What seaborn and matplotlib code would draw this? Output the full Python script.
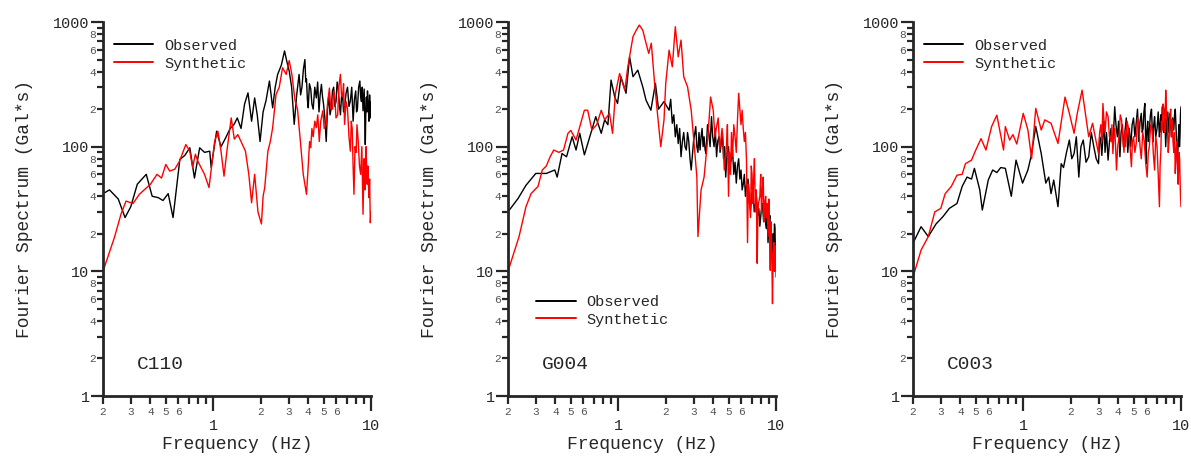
"""
Observed vs synthetic Fourier spectra at three stations (C110, G004, C003).
"""
import matplotlib
matplotlib.use("Agg")
import matplotlib.pyplot as plt
import matplotlib.ticker as mticker
import pandas as pd
import seaborn as sns


STATIONS = ["C110", "G004", "C003"]
SERIES = ["Observed", "Synthetic"]

# (frequency Hz, spectrum Gal*s) pairs
c110_obs = [
    (0.20, 42), (0.22, 45), (0.25, 38), (0.276, 27), (0.30, 33), (0.33, 50), (0.376, 60),
    (0.41, 40), (0.448, 39), (0.48, 37), (0.518, 42), (0.556, 27), (0.614, 79), (0.66, 85),
    (0.71, 98), (0.76, 56), (0.82, 98), (0.88, 90), (0.95, 92), (0.97, 68), (1.05, 133),
    (1.12, 100), (1.20, 118), (1.28, 140), (1.36, 152), (1.42, 170), (1.50, 140), (1.58, 220),
    (1.66, 270), (1.75, 160), (1.83, 246), (1.90, 180), (1.98, 110), (2.07, 190), (2.16, 234),
    (2.27, 336), (2.38, 205), (2.47, 300), (2.56, 380), (2.70, 450), (2.83, 586), (2.93, 480),
    (3.03, 405), (3.14, 300), (3.26, 151), (3.38, 260), (3.50, 380), (3.58, 260), (3.65, 300),
    (3.73, 420), (3.81, 500), (3.86, 330), (3.90, 350), (3.95, 240), (4.00, 205), (4.07, 320),
    (4.15, 290), (4.22, 220), (4.30, 200), (4.40, 300), (4.50, 246), (4.59, 330), (4.68, 190),
    (4.76, 260), (4.85, 316), (4.93, 250), (5.00, 220), (5.10, 170), (5.20, 110), (5.30, 200),
    (5.40, 260), (5.50, 180), (5.60, 205), (5.70, 280), (5.80, 300), (5.90, 210), (6.00, 230),
    (6.10, 330), (6.20, 295), (6.30, 220), (6.40, 180), (6.50, 250), (6.60, 260), (6.70, 190),
    (6.80, 205), (6.95, 270), (7.10, 300), (7.25, 210), (7.40, 234), (7.55, 300), (7.70, 160),
    (7.85, 240), (8.00, 280), (8.10, 190), (8.20, 200), (8.35, 300), (8.50, 336), (8.60, 250),
    (8.70, 230), (8.80, 300), (8.90, 194), (9.05, 290), (9.12, 180), (9.20, 104), (9.28, 200),
    (9.35, 250), (9.42, 190), (9.50, 280), (9.60, 220), (9.70, 160), (9.80, 260), (9.90, 170),
    (10.0, 230),
]
c110_syn = [
    (0.20, 10), (0.236, 18.6), (0.26, 28.7), (0.28, 36.6), (0.31, 35), (0.34, 41.5), (0.40, 50),
    (0.44, 60), (0.47, 56), (0.50, 72), (0.53, 63.7), (0.57, 66), (0.61, 76), (0.67, 104),
    (0.71, 92), (0.74, 68), (0.77, 87), (0.80, 76), (0.88, 60), (0.94, 47), (1.02, 110),
    (1.07, 133), (1.12, 92), (1.17, 58), (1.22, 92), (1.30, 170), (1.36, 115), (1.43, 125),
    (1.50, 110), (1.60, 92), (1.68, 60), (1.75, 35.5), (1.83, 60), (1.92, 30), (2.02, 24),
    (2.07, 40), (2.12, 47), (2.22, 92), (2.30, 110), (2.38, 142), (2.50, 262), (2.62, 300),
    (2.75, 430), (2.90, 380), (3.03, 490), (3.15, 380), (3.30, 234), (3.42, 200), (3.55, 118),
    (3.72, 60), (3.90, 41.5), (4.00, 70), (4.08, 110), (4.15, 98), (4.22, 140), (4.30, 120),
    (4.40, 160), (4.50, 142), (4.60, 180), (4.70, 110), (4.80, 160), (4.95, 194), (5.05, 140),
    (5.20, 150), (5.30, 220), (5.45, 295), (5.55, 200), (5.70, 200), (5.80, 280), (5.90, 246),
    (6.00, 170), (6.15, 180), (6.25, 300), (6.40, 380), (6.50, 260), (6.60, 250), (6.70, 320),
    (6.80, 151), (6.95, 230), (7.10, 200), (7.25, 120), (7.40, 92), (7.50, 160), (7.60, 140),
    (7.70, 70), (7.80, 41.5), (7.92, 100), (8.05, 90), (8.15, 150), (8.30, 110), (8.45, 70),
    (8.60, 60), (8.75, 100), (8.90, 28.7), (9.00, 60), (9.05, 80), (9.15, 45), (9.20, 68),
    (9.30, 100), (9.45, 50), (9.55, 70), (9.70, 39), (9.80, 55), (9.90, 24.5), (10.0, 30),
]
g004_obs = [
    (0.20, 30), (0.232, 38.5), (0.26, 49), (0.30, 61), (0.35, 61), (0.396, 65), (0.41, 57),
    (0.44, 88), (0.47, 83), (0.51, 120), (0.54, 94), (0.57, 128), (0.61, 86), (0.69, 145),
    (0.72, 174), (0.78, 128), (0.82, 164), (0.86, 150), (0.90, 342), (0.95, 250), (0.99, 222),
    (1.04, 364), (1.12, 268), (1.18, 526), (1.24, 364), (1.33, 411), (1.43, 302), (1.50, 236),
    (1.61, 196), (1.72, 322), (1.80, 200), (1.95, 230), (2.10, 196), (2.15, 240), (2.20, 154),
    (2.25, 180), (2.30, 120), (2.35, 150), (2.40, 106), (2.45, 140), (2.50, 83), (2.55, 110),
    (2.60, 130), (2.65, 100), (2.70, 94), (2.75, 130), (2.80, 110), (2.85, 80), (2.90, 65),
    (3.00, 110), (3.10, 145), (3.15, 100), (3.20, 90), (3.25, 130), (3.30, 94), (3.35, 120),
    (3.40, 140), (3.45, 100), (3.50, 120), (3.55, 95), (3.60, 88), (3.68, 150), (3.75, 130),
    (3.82, 100), (3.90, 174), (3.97, 120), (4.05, 100), (4.12, 140), (4.20, 83), (4.27, 110),
    (4.35, 120), (4.42, 90), (4.50, 106), (4.57, 130), (4.65, 80), (4.72, 100), (4.80, 57),
    (4.90, 90), (5.00, 100), (5.10, 70), (5.20, 78), (5.30, 95), (5.40, 60), (5.50, 75),
    (5.60, 51), (5.70, 70), (5.80, 80), (5.90, 55), (6.00, 65), (6.10, 45), (6.20, 50),
    (6.30, 60), (6.40, 40), (6.52, 50), (6.65, 55), (6.78, 38), (6.90, 31), (7.02, 42),
    (7.15, 45), (7.28, 30), (7.40, 34), (7.52, 40), (7.65, 28), (7.78, 32), (7.90, 23),
    (8.05, 30), (8.20, 35), (8.35, 25), (8.50, 33), (8.60, 24), (8.70, 22), (8.80, 28),
    (8.90, 17), (9.02, 25), (9.15, 28), (9.28, 18), (9.40, 20), (9.48, 14), (9.55, 13),
    (9.62, 20), (9.70, 15), (9.78, 24), (9.85, 22), (9.92, 14), (10.0, 15),
]
g004_syn = [
    (0.20, 10), (0.235, 19), (0.26, 33), (0.28, 42), (0.31, 48), (0.33, 65), (0.35, 70),
    (0.37, 83), (0.39, 94), (0.42, 90), (0.45, 94), (0.48, 128), (0.50, 135), (0.54, 113),
    (0.61, 196), (0.64, 196), (0.68, 136), (0.73, 150), (0.78, 196), (0.82, 164), (0.88, 185),
    (0.92, 128), (0.96, 268), (1.02, 386), (1.10, 284), (1.15, 437), (1.24, 763), (1.30, 860),
    (1.36, 945), (1.43, 860), (1.50, 676), (1.56, 560), (1.62, 676), (1.70, 322), (1.78, 174),
    (1.86, 100), (1.95, 164), (2.00, 322), (2.10, 595), (2.20, 437), (2.30, 916), (2.40, 526),
    (2.50, 716), (2.60, 364), (2.75, 302), (2.90, 196), (3.00, 120), (3.15, 57), (3.20, 19),
    (3.35, 45), (3.50, 57), (3.70, 120), (3.85, 250), (4.00, 196), (4.10, 120), (4.20, 145),
    (4.30, 170), (4.40, 94), (4.55, 140), (4.62, 110), (4.70, 65), (4.85, 100), (4.92, 150),
    (5.00, 40), (5.07, 90), (5.15, 60), (5.22, 130), (5.30, 83), (5.40, 150), (5.50, 120),
    (5.60, 90), (5.70, 164), (5.80, 268), (5.90, 200), (6.00, 150), (6.10, 196), (6.20, 140),
    (6.30, 110), (6.40, 130), (6.50, 78), (6.60, 17), (6.68, 50), (6.75, 40), (6.90, 27),
    (6.97, 70), (7.05, 60), (7.12, 35), (7.20, 51), (7.30, 80), (7.40, 30), (7.50, 45),
    (7.60, 11.6), (7.68, 30), (7.75, 35), (7.90, 40), (8.00, 60), (8.10, 30), (8.20, 45),
    (8.30, 57), (8.40, 25), (8.50, 35), (8.60, 40), (8.70, 27), (8.80, 35), (8.90, 19),
    (9.00, 38), (9.05, 30), (9.12, 18), (9.20, 10.2), (9.28, 25), (9.35, 20), (9.42, 12),
    (9.50, 5.5), (9.60, 14), (9.70, 17), (9.78, 10), (9.85, 12), (9.93, 16), (10.0, 9),
]
c003_obs = [
    (0.20, 16.8), (0.225, 22.8), (0.25, 19), (0.28, 24), (0.31, 27.5), (0.34, 32), (0.38, 35),
    (0.41, 48), (0.44, 57), (0.47, 55), (0.49, 67), (0.53, 45), (0.55, 31), (0.60, 54),
    (0.64, 65), (0.68, 62), (0.72, 68), (0.77, 67), (0.84, 40), (0.90, 78), (0.99, 51),
    (1.07, 65), (1.12, 83), (1.20, 145), (1.30, 88), (1.39, 51), (1.45, 57), (1.50, 42),
    (1.56, 54), (1.66, 33), (1.74, 73), (1.80, 68), (1.88, 90), (1.96, 113), (2.03, 80),
    (2.10, 88), (2.17, 120), (2.25, 57), (2.32, 100), (2.40, 113), (2.50, 75), (2.60, 83),
    (2.70, 130), (2.80, 100), (2.90, 80), (3.00, 73), (3.05, 120), (3.10, 110), (3.15, 85),
    (3.20, 120), (3.25, 160), (3.30, 90), (3.37, 130), (3.45, 78), (3.52, 110), (3.60, 140),
    (3.70, 100), (3.80, 209), (3.87, 150), (3.95, 120), (4.02, 160), (4.10, 83), (4.17, 130),
    (4.25, 150), (4.32, 100), (4.40, 128), (4.50, 170), (4.60, 90), (4.70, 140), (4.80, 100),
    (4.90, 150), (5.00, 170), (5.10, 120), (5.20, 154), (5.30, 200), (5.40, 110), (5.50, 160),
    (5.60, 185), (5.68, 130), (5.75, 140), (5.82, 190), (5.90, 222), (5.95, 140), (6.00, 73),
    (6.07, 130), (6.15, 160), (6.22, 110), (6.30, 136), (6.40, 180), (6.50, 200), (6.57, 140),
    (6.65, 110), (6.72, 150), (6.80, 174), (6.92, 120), (7.05, 140), (7.17, 190), (7.30, 120),
    (7.37, 150), (7.45, 180), (7.52, 130), (7.60, 209), (7.70, 150), (7.80, 130), (7.90, 170),
    (8.00, 100), (8.12, 160), (8.25, 190), (8.37, 130), (8.50, 185), (8.60, 150), (8.70, 120),
    (8.85, 170), (9.00, 136), (9.10, 180), (9.20, 200), (9.35, 120), (9.50, 73), (9.60, 110),
    (9.70, 150), (9.78, 100), (9.85, 120), (9.92, 180), (10.0, 209),
]
c003_syn = [
    (0.20, 9), (0.225, 14.8), (0.25, 19), (0.275, 30), (0.30, 32), (0.32, 42), (0.35, 48),
    (0.38, 59), (0.41, 60), (0.43, 73), (0.47, 78), (0.50, 94), (0.54, 116), (0.58, 94),
    (0.63, 145), (0.68, 179), (0.75, 94), (0.77, 145), (0.82, 113), (0.86, 125), (0.91, 105),
    (1.00, 185), (1.07, 136), (1.13, 80), (1.20, 203), (1.30, 136), (1.37, 164), (1.50, 154),
    (1.66, 106), (1.84, 250), (1.96, 185), (2.10, 128), (2.20, 185), (2.36, 284), (2.60, 120),
    (2.75, 154), (3.00, 88), (3.05, 130), (3.10, 150), (3.15, 110), (3.20, 222), (3.25, 160),
    (3.30, 130), (3.37, 190), (3.45, 174), (3.52, 120), (3.60, 110), (3.65, 150), (3.70, 88),
    (3.75, 120), (3.80, 140), (3.85, 100), (3.90, 65), (3.97, 100), (4.05, 120), (4.12, 180),
    (4.20, 164), (4.27, 120), (4.35, 90), (4.40, 130), (4.45, 100), (4.55, 160), (4.65, 140),
    (4.75, 100), (4.85, 69), (4.92, 110), (5.00, 120), (5.10, 90), (5.20, 106), (5.30, 170),
    (5.40, 150), (5.50, 100), (5.60, 80), (5.72, 130), (5.85, 110), (5.97, 75), (6.10, 57),
    (6.20, 90), (6.30, 100), (6.42, 150), (6.55, 140), (6.67, 90), (6.80, 65), (6.92, 120),
    (7.05, 100), (7.17, 60), (7.30, 33), (7.37, 70), (7.45, 90), (7.52, 160), (7.60, 136),
    (7.70, 220), (7.80, 200), (7.90, 130), (8.00, 284), (8.10, 180), (8.20, 150), (8.30, 90),
    (8.40, 113), (8.50, 170), (8.60, 200), (8.70, 120), (8.80, 164), (8.90, 110), (9.00, 90),
    (9.10, 130), (9.20, 61), (9.30, 90), (9.40, 110), (9.50, 70), (9.60, 50), (9.70, 90),
    (9.80, 80), (9.90, 45), (10.0, 33),
]

Y_MAJOR = [1, 10, 100, 1000]
Y_MINOR = [m * d for d in (1, 10, 100) for m in range(2, 10)]
X_MAJOR = [1, 10]
X_MINOR = [m * d for d in (0.1, 1) for m in range(2, 10)]
COLORS = {"Observed": "black", "Synthetic": "#ff0000"}
PT = 72 / 100  # points per pixel at dpi 100


def build_frame():
    spectra = {
        "C110": (c110_obs, c110_syn),
        "G004": (g004_obs, g004_syn),
        "C003": (c003_obs, c003_syn),
    }
    parts = []
    for st, (obs, syn) in spectra.items():
        for name, pairs in zip(SERIES, (obs, syn)):
            f, v = zip(*pairs)
            parts.append(pd.DataFrame({"station": st, "series": name, "freq": f, "amp": v}))
    return pd.concat(parts, ignore_index=True)


def leading_digit(v):
    return int(f"{v:e}"[0])


def style_axis(ax):
    ax.set_xscale("log")
    ax.set_yscale("log")
    ax.set_xlim(0.2, 10)
    ax.set_ylim(1, 1000)
    sns.despine(ax=ax)
    for side in ("left", "bottom"):
        ax.spines[side].set_linewidth(2.0)

    ax.yaxis.set_major_locator(mticker.FixedLocator(Y_MAJOR))
    ax.yaxis.set_major_formatter(mticker.FixedFormatter([str(v) for v in Y_MAJOR]))
    ax.yaxis.set_minor_locator(mticker.FixedLocator(Y_MINOR))
    ax.yaxis.set_minor_formatter(mticker.FixedFormatter(
        [str(leading_digit(v)) if leading_digit(v) in (2, 4, 6, 8) else "" for v in Y_MINOR]))

    ax.xaxis.set_major_locator(mticker.FixedLocator(X_MAJOR))
    ax.xaxis.set_major_formatter(mticker.FixedFormatter([str(v) for v in X_MAJOR]))
    ax.xaxis.set_minor_locator(mticker.FixedLocator(X_MINOR))
    ax.xaxis.set_minor_formatter(mticker.FixedFormatter(
        [str(leading_digit(v)) if leading_digit(v) in (2, 3, 4, 5, 6) else "" for v in X_MINOR]))

    ax.tick_params(axis="y", which="major", length=12 * PT, width=1.6, labelsize=11, pad=1)
    ax.tick_params(axis="y", which="minor", length=6 * PT, width=1.6, labelsize=8,
                   labelcolor="#555555", pad=1)
    ax.tick_params(axis="x", which="major", length=15 * PT, width=1.6, labelsize=11,
                   pad=8 * PT)
    ax.tick_params(axis="x", which="minor", length=8 * PT, width=1.6, labelsize=8,
                   labelcolor="#555555", pad=3 * PT)

    ax.set_xlabel("Frequency (Hz)", fontsize=13)
    ax.set_ylabel("Fourier Spectrum (Gal*s)", fontsize=13)
    ax.xaxis.set_label_coords(0.5, -0.108)
    ax.yaxis.set_label_coords(-0.26, 0.5)


def main():
    sns.set_style("ticks")
    plt.rcParams["font.family"] = ["Liberation Mono", "DejaVu Sans Mono"]

    df = build_frame()
    fig = plt.figure(figsize=(11.91, 4.61), dpi=100)
    lefts = [103, 508, 913]
    legend_pos = [(0.04, 0.955), (0.105, 0.27), (0.04, 0.955)]
    for i, st in enumerate(STATIONS):
        ax = fig.add_axes([lefts[i] / 1191, 65 / 461, 268 / 1191, 374 / 461])
        sub = df[df["station"] == st]
        sns.lineplot(data=sub, x="freq", y="amp", hue="series", hue_order=SERIES,
                     palette=COLORS, estimator=None, linewidth=1.0, ax=ax)
        style_axis(ax)
        leg = ax.legend(loc="upper left", bbox_to_anchor=legend_pos[i], frameon=False,
                        fontsize=11, handlelength=2.6, handletextpad=0.7,
                        labelspacing=0.25, borderpad=0, borderaxespad=0)
        for h in leg.get_lines():
            h.set_linewidth(1.4)
        ax.text(0.125, 0.085, st, transform=ax.transAxes, fontsize=14,
                va="center", ha="left")

    fig.savefig("out.png", dpi=100)


if __name__ == "__main__":
    main()
